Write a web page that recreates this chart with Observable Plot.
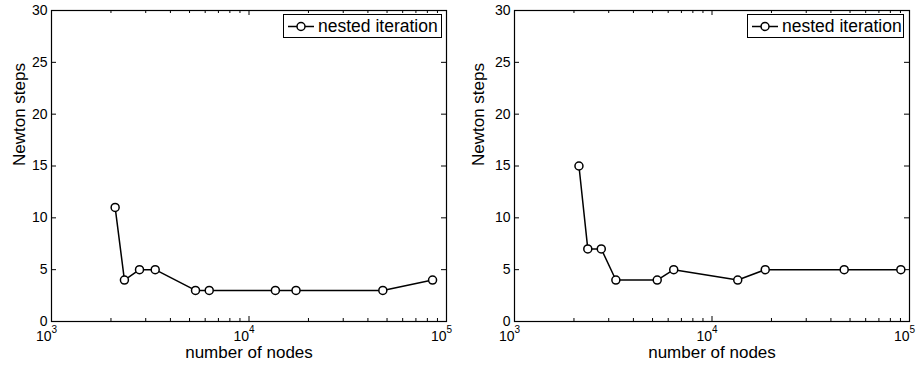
<!DOCTYPE html>
<html>
<head>
<meta charset="utf-8">
<script src="https://cdn.jsdelivr.net/npm/d3@7"></script>
<script src="https://cdn.jsdelivr.net/npm/@observablehq/plot@0.6"></script>
<style>
  html, body { margin: 0; padding: 0; background: white; }
  #wrap { display: flex; width: 918px; height: 367px; font-family: "Liberation Sans", Arial, Helvetica, sans-serif; }
  .panel { position: relative; width: 459px; height: 367px; overflow: hidden; }
  .legend { position: absolute; top: 14px; height: 22px; border: 1px solid black; background: white;
            display: flex; align-items: center; font-size: 17.5px; color: black; box-sizing: content-box; }
  .legend svg { display: block; margin-left: 3px; }
  .legend span { margin-left: 3px; white-space: nowrap; }
</style>
</head>
<body>
<div id="wrap"></div>
<script>
// ---- data ----
const nodesA = [2100, 2340, 2790, 3350, 5360, 6290, 13600, 17300, 47600, 85000];
const stepsA = [11, 4, 5, 5, 3, 3, 3, 3, 3, 4];
const nodesB = [2120, 2350, 2750, 3260, 5280, 6400, 13500, 18600, 46700, 90400];
const stepsB = [15, 7, 7, 4, 4, 5, 4, 5, 5, 5];
const seriesName = "nested iteration";
const xTicks = [1e3, 1e4, 1e5];
const xTickBase = ["10", "10", "10"];
const xTickExp = ["3", "4", "5"];
const xMinorTicks = [2000, 3000, 4000, 5000, 6000, 7000, 8000, 9000,
                     20000, 30000, 40000, 50000, 60000, 70000, 80000, 90000];
const yTicks = [0, 5, 10, 15, 20, 25, 30];
const xLabel = "number of nodes";
const yLabel = "Newton steps";

const W = 459, H = 367, MT = 10, MB = 46;

function makePanel(nodes, steps, mL, mR, legendLeft, legendWidth) {
  const data = nodes.map((n, i) => ({n, s: steps[i]}));
  const tickTable = xTicks.map((v, i) => ({v, base: xTickBase[i], exp: xTickExp[i]}));
  const innerW = W - mL - mR, innerH = H - MT - MB;
  const chart = Plot.plot({
    width: W, height: H,
    marginLeft: mL, marginRight: mR, marginTop: MT, marginBottom: MB,
    x: {type: "log", domain: [1e3, 1e5], axis: null},
    y: {domain: [0, 30], axis: null},
    style: {fontFamily: "'Liberation Sans', Arial, Helvetica, sans-serif", fontSize: "14px", background: "white", color: "black", overflow: "visible"},
    marks: [
      Plot.frame({stroke: "black", strokeWidth: 1.2}),
      // inward y ticks, left & right
      Plot.tickY(yTicks, {y: d => d, stroke: "black", insetRight: innerW - 5}),
      Plot.tickY(yTicks, {y: d => d, stroke: "black", insetLeft: innerW - 5}),
      // inward x ticks bottom & top (major + minor)
      Plot.tickX(xTicks, {x: d => d, stroke: "black", insetTop: innerH - 5}),
      Plot.tickX(xTicks, {x: d => d, stroke: "black", insetBottom: innerH - 5}),
      Plot.tickX(xMinorTicks, {x: d => d, stroke: "black", insetTop: innerH - 3}),
      Plot.tickX(xMinorTicks, {x: d => d, stroke: "black", insetBottom: innerH - 3}),
      // y tick labels
      Plot.axisY({ticks: yTicks, tickSize: 0, tickPadding: 4, label: null, fontSize: 14, tickFormat: d => String(d)}),
      // x tick labels 10^k
      Plot.text(tickTable, {x: "v", text: "base", frameAnchor: "bottom", lineAnchor: "middle", dy: 15.5, textAnchor: "end", fontSize: 14}),
      Plot.text(tickTable, {x: "v", text: "exp", frameAnchor: "bottom", lineAnchor: "middle", dy: 8.5, textAnchor: "start", fontSize: 10}),
      // axis titles
      Plot.text([xLabel], {text: d => d, frameAnchor: "bottom", lineAnchor: "middle", dy: 31, fontSize: 17}),
      Plot.text([yLabel], {text: d => d, frameAnchor: "left", lineAnchor: "middle", dx: 19 - mL, rotate: -90, fontSize: 17}),
      // data
      Plot.line(data, {x: "n", y: "s", stroke: "black", strokeWidth: 1.5}),
      Plot.dot(data, {x: "n", y: "s", r: 4, fill: "white", stroke: "black", strokeWidth: 1.5})
    ]
  });
  const panel = document.createElement("div");
  panel.className = "panel";
  panel.appendChild(chart);
  const leg = document.createElement("div");
  leg.className = "legend";
  leg.style.left = legendLeft + "px";
  leg.style.width = legendWidth + "px";
  leg.innerHTML = '<svg width="28" height="22"><line x1="1" y1="11.5" x2="27" y2="11.5" stroke="black" stroke-width="1.5"/><circle cx="14" cy="11.5" r="4" fill="white" stroke="black" stroke-width="1.5"/></svg><span></span>';
  leg.querySelector("span").textContent = seriesName;
  panel.appendChild(leg);
  return panel;
}

const wrap = document.getElementById("wrap");
wrap.appendChild(makePanel(nodesA, stepsA, 51, 13, 283, 157));
wrap.appendChild(makePanel(nodesB, stepsB, 55, 9, 288, 155));
</script>
</body>
</html>
